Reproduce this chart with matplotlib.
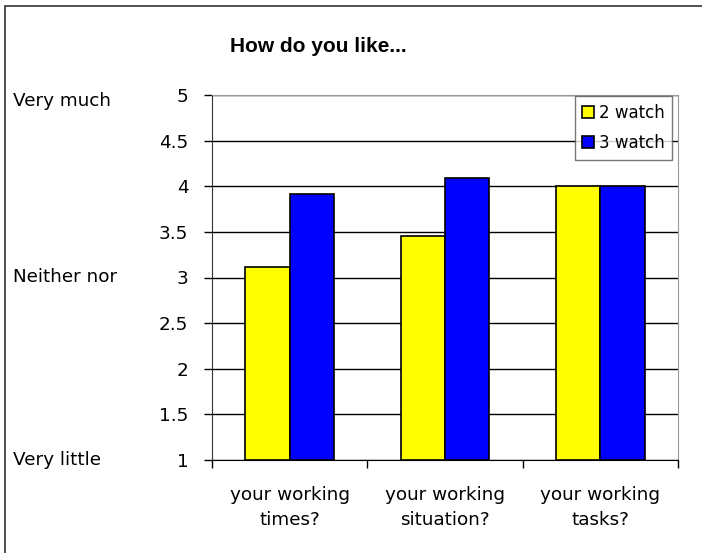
import matplotlib
matplotlib.use("Agg")
import matplotlib.pyplot as plt
import matplotlib.transforms as mtransforms
import numpy as np
from matplotlib.patches import Rectangle

categories = ["your working\ntimes?", "your working\nsituation?", "your working\ntasks?"]
series_names = ["2 watch", "3 watch"]
watch2 = [3.12, 3.45, 4.0]
watch3 = [3.92, 4.09, 4.0]
yticks = [1, 1.5, 2, 2.5, 3, 3.5, 4, 4.5, 5]
scale_labels = {5: "Very much", 3: "Neither nor", 1: "Very little"}
title = "How do you like..."

plt.rcParams['font.family'] = ['DejaVu Sans']
FS = 13.2

W, H = 702, 553
fig = plt.figure(figsize=(W / 100, H / 100), dpi=100)
fig.patch.set_facecolor("white")

# outer chart border (right/bottom edges cut off in reference)
fig.patches.append(Rectangle((5 / W, -0.1), 1.2, 1 - 6 / H + 0.1,
                             transform=fig.transFigure, fill=False,
                             edgecolor="#333333", linewidth=1.2))

left, right, top, bottom = 212, 678, 95, 460
ax = fig.add_axes([left / W, 1 - bottom / H, (right - left) / W, (bottom - top) / H])

x = np.arange(len(categories))
bw = 0.285
ax.bar(x - bw / 2, [v - 1 for v in watch2], bw, bottom=1, color="#FFFF00",
       edgecolor="black", linewidth=1.2, label=series_names[0], zorder=3)
ax.bar(x + bw / 2, [v - 1 for v in watch3], bw, bottom=1, color="#0000FF",
       edgecolor="black", linewidth=1.2, label=series_names[1], zorder=3)

ax.set_xlim(-0.5, len(categories) - 0.5)
ax.set_ylim(1, 5)
ax.set_yticks(yticks)
ax.set_yticklabels([f"{t:g}" for t in yticks], fontsize=FS)
ax.yaxis.grid(True, color="black", linewidth=1.0, zorder=0)
ax.set_axisbelow(True)

ax.set_xticks(x)
ax.set_xticklabels(categories, fontsize=FS, linespacing=1.5)
ax.set_xticks(np.arange(len(categories) + 1) - 0.5, minor=True)
ax.tick_params(axis="x", which="major", length=0, pad=19)
ax.tick_params(axis="x", which="minor", length=6, width=1, direction="out")
ax.tick_params(axis="y", length=6, width=1, direction="out", pad=11)

for s in ["top", "right"]:
    ax.spines[s].set_color("#999999")
ax.spines["left"].set_color("#333333")
ax.spines["bottom"].set_color("black")

blend = mtransforms.blended_transform_factory(fig.transFigure, ax.transData)
top_val = max(scale_labels)
for v, lab in scale_labels.items():
    dy = -6 if v == top_val else 0
    tr = mtransforms.offset_copy(blend, fig=fig, y=dy, units='dots')
    ax.text(13 / W, v, lab, transform=tr, fontsize=FS, ha="left", va="center")

leg = ax.legend(loc="upper right", bbox_to_anchor=(0.988, 0.997), fontsize=12,
                frameon=True, fancybox=False, edgecolor="#555555",
                handlelength=0.7, handleheight=0.7, handletextpad=0.3,
                borderpad=0.45, labelspacing=0.75, borderaxespad=0)
leg.get_frame().set_linewidth(1.0)
leg.set_zorder(5)

fig.text(318 / W, 1 - 47 / H, title, fontsize=15, fontweight="bold",
         family=["Liberation Sans", "DejaVu Sans"], ha="center", va="center")

fig.savefig("out.png", dpi=100)
